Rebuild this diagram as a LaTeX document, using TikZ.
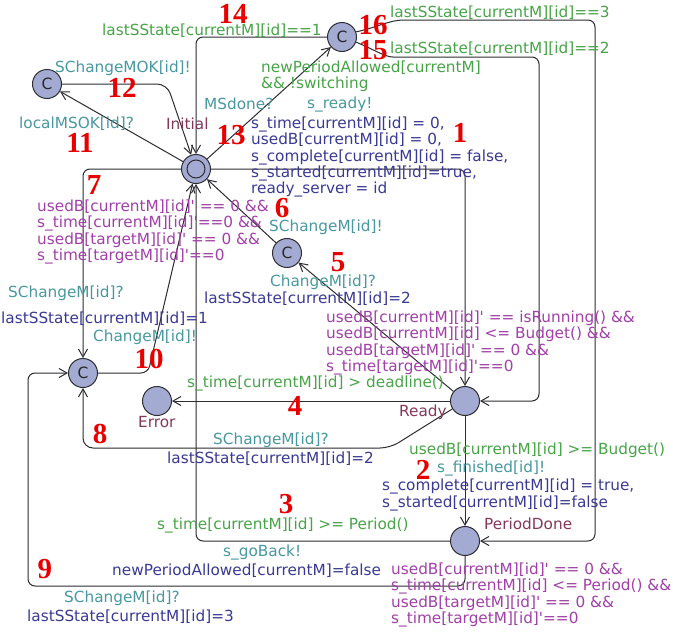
\documentclass[tikz,border=0pt]{standalone}
\usepackage{fontspec}
\setmainfont{DejaVu Sans}
\newfontfamily\numfont{Liberation Serif}
\usetikzlibrary{arrows.meta}
\definecolor{guardc}{RGB}{72,164,72}
\definecolor{syncc}{RGB}{72,152,160}
\definecolor{updc}{RGB}{58,58,148}
\definecolor{invc}{RGB}{160,64,168}
\definecolor{namec}{RGB}{132,56,90}
\definecolor{numc}{RGB}{232,0,0}
\definecolor{locfill}{RGB}{163,171,211}
\definecolor{edgec}{RGB}{45,45,50}
\newcommand\sq{\textquotesingle}
\begin{document}
\begin{tikzpicture}[x=1pt,y=-1pt,
  loc/.style={circle,draw=edgec,line width=1pt,fill=locfill,minimum size=29pt,inner sep=0pt},
  committed/.style={loc,font=\fontsize{15.5}{15.5}\selectfont,text=black!85},
  edge/.style={draw=edgec,line width=1pt,rounded corners=7pt,-{Straight Barb[length=8pt,width=9pt]}},
  lbl/.style={inner sep=0pt,anchor=west,font=\fontsize{15.3}{16.3}\selectfont},
  blk/.style={lbl,align=left},
  guard/.style={lbl,text=guardc},
  sync/.style={lbl,text=syncc},
  upd/.style={lbl,text=updc},
  inv/.style={lbl,text=invc},
  locname/.style={lbl,text=namec},
  num/.style={inner sep=0pt,text=numc,font=\numfont\bfseries\fontsize{29}{29}\selectfont},
]
\useasboundingbox[fill=white] (0,0) rectangle (673,635);

% locations
\node[loc] (init) at (196,169) {};
\draw[edgec,line width=1pt] (init.center) circle (9pt);
\node[committed] (ctop) at (342,37) {C};
\node[committed] (cleft) at (47,84) {C};
\node[committed] (cmid) at (287,253) {C};
\node[committed] (clow) at (83,373) {C};
\node[loc] (error) at (157,401) {};
\node[loc] (ready) at (465,401) {};
\node[loc] (pdone) at (465,541) {};

% bend points
\coordinate (c8) at (390,448);
\coordinate (c9) at (28,586);
\coordinate (c10) at (148,373);
\coordinate (c12) at (167,84);
\coordinate (c15) at (539,57);
\coordinate (c16) at (595,20);

% transitions
\draw[edge] (init) -- (init -| ready) -- (ready);
\draw[edge] (ready) -- (pdone);
\draw[edge] (pdone) -- (pdone -| init) -- (init);
\draw[edge] (ready) -- (error);
\draw[edge] (ready) -- (cmid);
\draw[edge] (cmid) -- (init);
\draw[edge] (init) -- (init -| clow) -- (clow);
\draw[edge,rounded corners=10pt] (ready) -- (c8) -- (c8 -| clow) -- (clow);
\draw[edge] (pdone) -- (pdone |- c9) -- (c9) -- (c9 |- clow) -- (clow);
\draw[edge] (clow) -- (c10) -- (init);
\draw[edge] (init) -- (cleft);
\draw[edge,rounded corners=10pt] (cleft) -- (c12) -- (init);
\draw[edge] (init) -- (ctop);
\draw[edge] (ctop) -- (ctop -| init) -- (init);
\draw[edge] (ctop.-20) .. controls (375,50) and (385,57) .. (400,57) -- (c15) -- (c15 |- ready) -- (ready);
\draw[edge] (ctop.20) .. controls (375,28) and (390,20) .. (410,20) -- (c16) -- (c16 |- pdone) -- (pdone);

% location names
\node[locname] (nInit) at (166,124) {Initial};
\node[locname] (nErr) at (138,422) {Error};
\node[locname] (nReady) at (399,412) {Ready};
\node[locname] (nPD) at (484,524) {PeriodDone};

% guards
\node[guard] (g14) at (102,31) {lastSState[currentM][id]==1};
\node[guard] (g16) at (390,13) {lastSState[currentM][id]==3};
\node[guard] (g15) at (390,49) {lastSState[currentM][id]==2};
\node[guard,blk] (g13) at (261,76) {newPeriodAllowed[currentM]\\\&\& !switching};
\node[guard] (g4) at (187,383) {s\_time[currentM][id] > deadline()};
\node[guard] (g2) at (409,450) {usedB[currentM][id] >= Budget()};
\node[guard] (g3) at (157,525) {s\_time[currentM][id] >= Period()};

% synchronisations
\node[sync] (s12) at (55,68) {SChangeMOK[id]!};
\node[sync] (s13) at (204,104) {MSdone?};
\node[sync] (s1) at (307,104) {s\_ready!};
\node[sync] (s11) at (19,124) {localMSOK[id]?};
\node[sync] (s6) at (269,227) {SChangeM[id]!};
\node[sync] (s5) at (270,282) {ChangeM[id]?};
\node[sync] (s7) at (8,293) {SChangeM[id]?};
\node[sync] (s10) at (93,337) {ChangeM[id]!};
\node[sync] (s8) at (213,440) {SChangeM[id]?};
\node[sync] (s2) at (437,468) {s\_finished[id]!};
\node[sync] (s3) at (223,552) {s\_goBack!};
\node[sync] (s9) at (64,598) {SChangeM[id]?};

% updates
\node[upd,blk] (u1) at (251,157) {s\_time[currentM][id] = 0,\\usedB[currentM][id] = 0,\\s\_complete[currentM][id] = false,\\s\_started[currentM][id]=true,\\ready\_server = id};
\node[upd] (u5) at (204,299) {lastSState[currentM][id]=2};
\node[upd] (u7) at (1,319) {lastSState[currentM][id]=1};
\node[upd] (u8) at (167,459) {lastSState[currentM][id]=2};
\node[upd,blk] (u2) at (382,495) {s\_complete[currentM][id] = true,\\s\_started[currentM][id]=false};
\node[upd] (u3) at (112,571) {newPeriodAllowed[currentM]=false};
\node[upd] (u9) at (27,617) {lastSState[currentM][id]=3};

% clock conditions
\node[inv,blk] (i7) at (37,232) {usedB[currentM][id]\sq{} == 0 \&\&\\s\_time[currentM][id]\sq{}==0 \&\&\\usedB[targetM][id]\sq{} == 0 \&\&\\s\_time[targetM][id]\sq{}==0};
\node[inv,blk] (i5) at (326,343) {usedB[currentM][id]\sq{} == isRunning() \&\&\\usedB[currentM][id] <= Budget() \&\&\\usedB[targetM][id]\sq{} == 0 \&\&\\s\_time[targetM][id]\sq{}==0};
\node[inv,blk] (i9) at (391,595) {usedB[currentM][id]\sq{} == 0 \&\&\\s\_time[currentM][id] <= Period() \&\&\\usedB[targetM][id]\sq{} == 0 \&\&\\s\_time[targetM][id]\sq{}==0};

% transition numbers
\node[num] (n1) at (460,133) {1};
\node[num] (n2) at (423,470) {2};
\node[num] (n3) at (286,504) {3};
\node[num] (n4) at (295,406) {4};
\node[num] (n5) at (338,262) {5};
\node[num] (n6) at (282,208) {6};
\node[num] (n7) at (94,185) {7};
\node[num] (n8) at (100,434) {8};
\node[num] (n9) at (45,569) {9};
\node[num] (n10) at (149,359) {10};
\node[num] (n11) at (80,143) {11};
\node[num] (n12) at (122,88) {12};
\node[num] (n13) at (231,135) {13};
\node[num] (n14) at (233,14) {14};
\node[num] (n15) at (373,50) {15};
\node[num] (n16) at (373,25) {16};
\end{tikzpicture}
\end{document}
